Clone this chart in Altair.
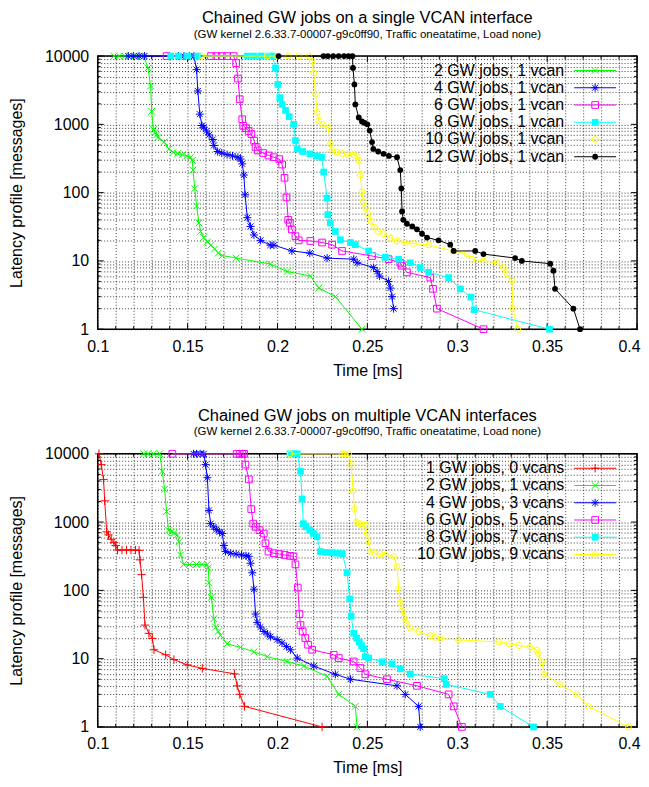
import altair as alt
import pandas as pd

# ---------------- texts ----------------
top_title = "Chained GW jobs on a single VCAN interface"
bottom_title = "Chained GW jobs on multiple VCAN interfaces"
subtitle = "(GW kernel 2.6.33.7-00007-g9c0ff90, Traffic oneatatime, Load none)"
x_title = "Time [ms]"
y_title = "Latency profile [messages]"

# ---------------- axis ticks ----------------
x_tick_values = [round(0.10 + 0.01 * i, 2) for i in range(31)]
x_major_values = [0.1, 0.15, 0.2, 0.25, 0.3, 0.35, 0.4]
y_tick_values = [m * 10 ** e for e in range(4) for m in range(1, 10)] + [10000]
y_major_values = [1, 10, 100, 1000, 10000]

# ---------------- top panel data ----------------
top_names = ["2 GW jobs, 1 vcan", "4 GW jobs, 1 vcan", "6 GW jobs, 1 vcan",
             "8 GW jobs, 1 vcan", "10 GW jobs, 1 vcan", "12 GW jobs, 1 vcan"]

t_top_2 = [0.109, 0.112, 0.115, 0.118, 0.121, 0.124, 0.1256, 0.128, 0.1294, 0.1300,
           0.1310, 0.1320, 0.1328, 0.1335, 0.1369, 0.1396, 0.1420, 0.1445, 0.1470, 0.1495,
           0.1517, 0.1526, 0.1530, 0.1540, 0.1550, 0.1563, 0.1572, 0.1590, 0.1610, 0.1630,
           0.1650, 0.1670, 0.1693, 0.1770, 0.1960, 0.2054, 0.2183, 0.2230, 0.2322, 0.2470]
n_top_2 = [10000, 10000, 10000, 10000, 9990, 9980, 9960, 6700, 3640, 1550,
           840, 760, 700, 640, 550, 436, 390, 375, 360, 345,
           330, 297, 214, 115, 64, 36, 27, 22, 19, 17,
           15, 13, 12, 11, 9, 7, 6, 4, 3, 1]

t_top_4 = [0.117, 0.120, 0.123, 0.126, 0.145, 0.148, 0.151, 0.1535, 0.155, 0.1557,
           0.1568, 0.158, 0.159, 0.1605, 0.162, 0.164, 0.1646, 0.1667, 0.169, 0.172,
           0.175, 0.178, 0.1794, 0.1804, 0.1813, 0.182, 0.1832, 0.185, 0.1869, 0.1906,
           0.196, 0.198, 0.208, 0.218, 0.2276, 0.2424, 0.2443, 0.2535, 0.2554, 0.2568,
           0.2618, 0.2628, 0.2637, 0.2646]
n_top_4 = [10000, 10000, 10000, 10000, 10000, 9990, 9980, 9960, 6330, 3080,
           1410, 960, 910, 800, 700, 600, 490, 400, 380, 360,
           345, 330, 310, 264, 181, 93, 43, 32, 24, 20,
           17, 17, 14, 13, 11, 10.6, 9.4, 8, 7, 6,
           5, 4, 3, 2]

t_top_6 = [0.1383, 0.163, 0.166, 0.169, 0.172, 0.1756, 0.177, 0.178, 0.179, 0.1804,
           0.181, 0.1825, 0.184, 0.1855, 0.187, 0.1878, 0.189, 0.192, 0.195, 0.198,
           0.201, 0.2026, 0.2039, 0.205, 0.206, 0.2069, 0.208, 0.21, 0.2118, 0.2183,
           0.2248, 0.2304, 0.2359, 0.2526, 0.2618, 0.2683, 0.2693, 0.272, 0.285, 0.2865,
           0.2887, 0.3146]
n_top_6 = [10000, 10000, 10000, 10000, 10000, 9990, 7900, 4690, 2330, 1190,
           950, 880, 800, 720, 578, 466, 415, 380, 350, 330,
           310, 258, 165, 85, 40, 36, 29, 23, 20, 19.6,
           18.6, 17.3, 14, 11.8, 10.6, 9.4, 8.5, 6.8, 5.7, 3.9,
           2, 1]

t_top_8 = [0.1406, 0.145, 0.150, 0.1556, 0.1833, 0.187, 0.191, 0.1950, 0.1972, 0.1989,
           0.2002, 0.2013, 0.2026, 0.2045, 0.2065, 0.209, 0.21, 0.211, 0.214, 0.218,
           0.222, 0.2245, 0.2257, 0.2276, 0.228, 0.2294, 0.2322, 0.235, 0.2406, 0.2433,
           0.2507, 0.26, 0.2674, 0.2739, 0.2794, 0.2841, 0.2952, 0.3017, 0.3076, 0.3094,
           0.3513]
n_top_8 = [10000, 10000, 10000, 10000, 10000, 10000, 10000, 9990, 9980, 6700,
           3840, 2460, 1960, 1600, 1300, 1000, 578, 436, 400, 370,
           345, 330, 200, 83, 47.6, 36, 27, 20.4, 18.6, 17.3,
           14, 11.3, 10.6, 9.4, 8, 6.8, 5.7, 3.9, 2.95, 1.93,
           1]

t_top_10 = [0.1581, 0.1943, 0.200, 0.206, 0.212, 0.2175, 0.2193, 0.2202, 0.2211, 0.222,
            0.223, 0.225, 0.2283, 0.2294, 0.2304, 0.233, 0.236, 0.239, 0.2424, 0.2443,
            0.2452, 0.2461, 0.247, 0.2478, 0.249, 0.2505, 0.252, 0.254, 0.256, 0.259,
            0.2628, 0.2665, 0.2711, 0.2757, 0.2841, 0.298, 0.3054, 0.3082, 0.3146, 0.322,
            0.3257, 0.3276, 0.3304, 0.331, 0.3337]
n_top_10 = [10000, 10000, 10000, 10000, 10000, 9990, 8390, 5670, 2750, 1490,
            1130, 1000, 900, 517, 415, 390, 375, 365, 357, 340,
            297, 181, 103, 74, 60, 48, 38, 31, 27, 25,
            21.8, 19.6, 18.6, 18, 17.1, 14, 12.6, 10.6, 10, 9.4,
            8, 6.5, 5.2, 2, 1]

t_top_12 = [0.2006, 0.2256, 0.228, 0.231, 0.234, 0.237, 0.2395, 0.2417, 0.242, 0.2428,
            0.2433, 0.2452, 0.247, 0.2485, 0.25, 0.2513, 0.2526, 0.2533, 0.256, 0.259,
            0.262, 0.2665, 0.2683, 0.2689, 0.2693, 0.27, 0.272, 0.275, 0.2776, 0.2804,
            0.2832, 0.2896, 0.2961, 0.298, 0.31, 0.3146, 0.3322, 0.3359, 0.3517, 0.3535,
            0.3544, 0.3646, 0.3683]
n_top_12 = [10000, 10000, 10000, 10000, 10000, 10000, 9990, 9970, 6700, 3840,
            1960, 1260, 1100, 1050, 1000, 810, 550, 436, 400, 370,
            345, 330, 214, 115, 53, 40, 35, 32, 29, 25,
            22, 20, 17.3, 14, 14, 12.6, 11, 10, 9.1, 7.2,
            3.9, 2, 1]

# ---------------- bottom panel data ----------------
bottom_names = ["1 GW jobs, 0 vcans", "2 GW jobs, 1 vcans", "4 GW jobs, 3 vcans",
                "6 GW jobs, 5 vcans", "8 GW jobs, 7 vcans", "10 GW jobs, 9 vcans"]

t_bot_1 = [0.1007, 0.102, 0.1032, 0.1039, 0.105, 0.106, 0.1075, 0.109, 0.110, 0.111,
           0.1135, 0.116, 0.1185, 0.121, 0.123, 0.1235, 0.1244, 0.1254, 0.1263, 0.1285,
           0.1304, 0.1313, 0.1378, 0.1424, 0.1498, 0.1582, 0.1761, 0.1776, 0.179, 0.1817,
           0.2248]
n_bot_1 = [10000, 6940, 4220, 2050, 720, 650, 560, 500, 455, 390,
           390, 390, 390, 390, 385, 280, 170, 79, 31, 23.5,
           19.8, 13.5, 11.4, 9.7, 8.1, 7.2, 6, 4, 3, 2,
           1]

t_bot_2 = [0.1256, 0.128, 0.131, 0.1345, 0.1359, 0.1372, 0.1383, 0.1394, 0.141, 0.1425,
           0.1443, 0.1452, 0.1461, 0.1478, 0.151, 0.155, 0.158, 0.161, 0.1615, 0.1619,
           0.1632, 0.1646, 0.1656, 0.167, 0.1683, 0.172, 0.1794, 0.1869, 0.1943, 0.2054,
           0.2146, 0.2276, 0.2341, 0.2433, 0.2443]
n_bot_2 = [10000, 10000, 10000, 10000, 5560, 3030, 1430, 760, 720, 690,
           650, 515, 330, 240, 240, 240, 240, 240, 213, 129,
           79, 38.5, 29, 25, 22, 16.5, 14.6, 12.6, 10.7, 9.1,
           7.8, 5.5, 3, 2, 1]

t_bot_4 = [0.1533, 0.155, 0.157, 0.159, 0.160, 0.161, 0.1619, 0.1628, 0.1645, 0.166,
           0.1678, 0.1693, 0.1702, 0.1711, 0.174, 0.177, 0.180, 0.1825, 0.184, 0.185,
           0.186, 0.1869, 0.1878, 0.1887, 0.1905, 0.1925, 0.1945, 0.1961, 0.1998, 0.2025,
           0.205, 0.2072, 0.211, 0.2202, 0.2322, 0.2406, 0.2665, 0.2711, 0.2785, 0.2794]
n_bot_4 = [10000, 10000, 10000, 10000, 6940, 4470, 1480, 950, 850, 780,
           720, 680, 455, 370, 350, 340, 330, 320, 315, 250,
           181, 104, 45, 34, 29, 25, 23, 21, 19, 17,
           15, 13.5, 10.2, 7.8, 5.9, 5, 4, 3, 2, 1]

t_bot_6 = [0.1415, 0.1773, 0.179, 0.1805, 0.1815, 0.1822, 0.1841, 0.1854, 0.1865, 0.188,
           0.190, 0.1924, 0.1933, 0.195, 0.198, 0.201, 0.204, 0.207, 0.2089, 0.21,
           0.2113, 0.2122, 0.2128, 0.214, 0.2155, 0.217, 0.2193, 0.2313, 0.2341, 0.2424,
           0.2461, 0.2489, 0.2609, 0.2776, 0.2952, 0.298, 0.3026]
n_bot_6 = [10000, 10000, 10000, 10000, 9990, 6940, 4220, 1550, 950, 850,
           760, 680, 490, 370, 350, 340, 330, 320, 315, 240,
           110, 45, 31, 25, 20, 16, 13.5, 11.4, 10.2, 9.1,
           7.3, 5.9, 5, 4, 3, 2, 1]

t_bot_8 = [0.2070, 0.209, 0.211, 0.2128, 0.2137, 0.2144, 0.216, 0.218, 0.220, 0.222,
           0.2239, 0.227, 0.230, 0.233, 0.2361, 0.2387, 0.2402, 0.241, 0.2424, 0.244,
           0.2455, 0.2468, 0.2479, 0.2489, 0.2507, 0.2582, 0.2637, 0.2683, 0.2739, 0.2928,
           0.2939, 0.3183, 0.3239, 0.3424]
n_bot_8 = [10000, 10000, 10000, 5560, 2180, 950, 850, 760, 680, 610,
           370, 360, 355, 350, 345, 181, 75, 42, 23.5, 20,
           17.5, 15.5, 14, 10.7, 10.2, 9, 8.4, 7.1, 5.95, 5.1,
           4.2, 3, 2, 1]

t_bot_10 = [0.2070, 0.2359, 0.2375, 0.2396, 0.241, 0.2421, 0.2428, 0.2439, 0.2455, 0.247,
            0.2489, 0.2498, 0.2507, 0.2517, 0.254, 0.257, 0.26, 0.2646, 0.2665, 0.2674,
            0.2683, 0.2693, 0.2705, 0.2718, 0.2739, 0.2785, 0.285, 0.2878, 0.2906, 0.3007,
            0.3231, 0.3287, 0.3343, 0.3406, 0.3443, 0.3452, 0.3471, 0.3483, 0.3572, 0.3665,
            0.373, 0.3952]
n_bot_10 = [10000, 10000, 10000, 10000, 6940, 2860, 1550, 1000, 950, 900,
            900, 680, 515, 370, 350, 340, 330, 315, 225, 104,
            67, 50, 40, 33, 28, 25, 21.6, 20.5, 19.6, 18.8,
            17.6, 16.5, 15.6, 14.7, 13.3, 11.9, 8.9, 5.9, 4.2, 3,
            2, 1]

top_series = [(top_names[0], t_top_2, n_top_2), (top_names[1], t_top_4, n_top_4),
              (top_names[2], t_top_6, n_top_6), (top_names[3], t_top_8, n_top_8),
              (top_names[4], t_top_10, n_top_10), (top_names[5], t_top_12, n_top_12)]
bottom_series = [(bottom_names[0], t_bot_1, n_bot_1), (bottom_names[1], t_bot_2, n_bot_2),
                 (bottom_names[2], t_bot_4, n_bot_4), (bottom_names[3], t_bot_6, n_bot_6),
                 (bottom_names[4], t_bot_8, n_bot_8), (bottom_names[5], t_bot_10, n_bot_10)]

# ---------------- styles ----------------
FONT = "Liberation Sans"
PLUS = "M-1,0L1,0M0,-1L0,1"
CROSS = "M-1,-1L1,1M-1,1L1,-1"
STAR = "M-1,0L1,0M0,-1L0,1M-0.75,-0.75L0.75,0.75M-0.75,0.75L0.75,-0.75"
S_RED = ("#ff0000", PLUS, False, 72)
S_GREEN = ("#00ff00", CROSS, False, 45)
S_BLUE = ("#0000ff", STAR, False, 64)
S_MAGENTA = ("#ff00ff", "square", False, 45)
S_CYAN = ("#00ffff", "square", True, 45)
S_YELLOW = ("#ffff00", "circle", False, 34)
S_BLACK = ("#000000", "circle", True, 34)
top_styles = [S_GREEN, S_BLUE, S_MAGENTA, S_CYAN, S_YELLOW, S_BLACK]
bottom_styles = [S_RED, S_GREEN, S_BLUE, S_MAGENTA, S_CYAN, S_YELLOW]

W, H = 541, 274
LEG_TEXT_X, LEG_LINE_X1, LEG_LINE_X2, LEG_Y0, LEG_DY = 468, 478, 520, 14.5, 17.3
MAJOR_LEN, MINOR_LEN = 6, 3
GRID = dict(grid=True, gridDash=[1, 2], gridColor="#000000", gridOpacity=0.75, gridWidth=1)


def x_enc():
    return alt.X(
        "t:Q", title=x_title,
        scale=alt.Scale(domain=[0.1, 0.4], nice=False, zero=False),
        axis=alt.Axis(values=x_tick_values,
                      labelExpr="indexof(%s, datum.value) >= 0 ? toString(datum.value) : ''" % x_major_values,
                      labelOffset={"condition": {"test": "datum.value >= 0.39", "value": -8}, "value": 0},
                      domain=False, ticks=False, labelFlush=False, labelOverlap=False,
                      labelPadding=9, titlePadding=8, **GRID))


def y_enc():
    return alt.Y(
        "n:Q", title=y_title,
        scale=alt.Scale(type="log", domain=[1, 10000], nice=False),
        axis=alt.Axis(values=y_tick_values,
                      labelExpr="indexof(%s, datum.value) >= 0 ? toString(datum.value) : ''" % y_major_values,
                      domain=False, ticks=False, labelOverlap=False,
                      labelPadding=9, titlePadding=19.5, **GRID))


def panel(series, styles, title):
    layers = []
    # inward tick marks on all four sides
    xt_major = pd.DataFrame({"t": x_major_values})
    xt_minor = pd.DataFrame({"t": [v for v in x_tick_values if v not in x_major_values]})
    yt_major = pd.DataFrame({"n": y_major_values})
    yt_minor = pd.DataFrame({"n": [v for v in y_tick_values if v not in y_major_values]})
    for d, L in [(xt_major, MAJOR_LEN), (xt_minor, MINOR_LEN)]:
        layers.append(alt.Chart(d).mark_rule(color="black", strokeWidth=1).encode(
            x=x_enc(), y=alt.value(H), y2=alt.value(H - L)))
        layers.append(alt.Chart(d).mark_rule(color="black", strokeWidth=1).encode(
            x=x_enc(), y=alt.value(0), y2=alt.value(L)))
    for d, L in [(yt_major, MAJOR_LEN), (yt_minor, MINOR_LEN)]:
        layers.append(alt.Chart(d).mark_rule(color="black", strokeWidth=1).encode(
            y=y_enc(), x=alt.value(0), x2=alt.value(L)))
        layers.append(alt.Chart(d).mark_rule(color="black", strokeWidth=1).encode(
            y=y_enc(), x=alt.value(W - L), x2=alt.value(W)))
    # data series
    for (name, t, n), (col, shape, filled, size) in zip(series, styles):
        df = pd.DataFrame({"t": t, "n": n, "k": list(range(len(t)))})
        base = alt.Chart(df)
        layers.append(base.mark_line(color=col, strokeWidth=1).encode(
            x=x_enc(), y=y_enc(), order=alt.Order("k:Q")))
        layers.append(base.mark_point(shape=shape, filled=filled, size=size, color=col,
                                      strokeWidth=1, opacity=1).encode(x=x_enc(), y=y_enc()))
    # key in the top-right corner
    for i, ((name, _, _), (col, shape, filled, size)) in enumerate(zip(series, styles)):
        ly = LEG_Y0 + i * LEG_DY
        d = pd.DataFrame({"label": [name]})
        layers.append(alt.Chart(d).mark_text(align="right", baseline="middle", fontSize=16,
                                             font=FONT, color="black").encode(
            text="label:N", x=alt.value(LEG_TEXT_X), y=alt.value(ly)))
        layers.append(alt.Chart(d).mark_rule(color=col, strokeWidth=1).encode(
            x=alt.value(LEG_LINE_X1), x2=alt.value(LEG_LINE_X2), y=alt.value(ly)))
        layers.append(alt.Chart(d).mark_point(shape=shape, filled=filled, size=size, color=col,
                                              strokeWidth=1, opacity=1).encode(
            x=alt.value((LEG_LINE_X1 + LEG_LINE_X2) / 2), y=alt.value(ly)))
    return alt.layer(*layers).properties(
        width=W, height=H,
        title=alt.TitleParams(text=title, subtitle=subtitle, fontSize=16.5, subtitleFontSize=11.5,
                              font=FONT, subtitleFont=FONT, fontWeight="normal",
                              color="black", subtitleColor="black", anchor="middle",
                              frame="group", offset=8, subtitlePadding=2))


chart = alt.vconcat(
    panel(top_series, top_styles, top_title),
    panel(bottom_series, bottom_styles, bottom_title),
    spacing=28,
).properties(
    padding={"left": 0, "top": 0, "right": 0, "bottom": 0}
).configure(font=FONT).configure_view(
    stroke="black", strokeWidth=1.5
).configure_axis(
    labelFont=FONT, titleFont=FONT, labelFontSize=16, titleFontSize=16,
    labelColor="black", titleColor="black", titleFontWeight="normal"
)

chart.save("out.html", embed_options={"renderer": "svg", "actions": False})
